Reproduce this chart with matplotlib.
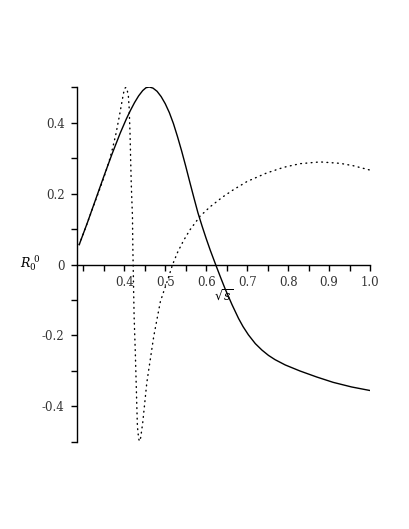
import matplotlib
matplotlib.use("Agg")
import matplotlib.pyplot as plt
from matplotlib.ticker import FixedLocator, MultipleLocator

plt.rcParams["font.family"] = "DejaVu Serif"
plt.rcParams["mathtext.fontset"] = "dejavuserif"


# solid curve
sqrt_s_solid = [0.290, 0.310, 0.330, 0.350, 0.370, 0.390, 0.405, 0.415, 0.425,
                0.435, 0.445, 0.453, 0.461, 0.470, 0.480, 0.490, 0.500, 0.510,
                0.520, 0.530, 0.540, 0.550, 0.560, 0.570, 0.580, 0.590, 0.600,
                0.610, 0.623, 0.635, 0.646, 0.663, 0.679, 0.690, 0.703, 0.720,
                0.736, 0.752, 0.768, 0.793, 0.829, 0.870, 0.910, 0.955, 1.000]
r00_solid = [0.056, 0.118, 0.183, 0.248, 0.311, 0.370, 0.410, 0.434, 0.456,
             0.475, 0.490, 0.498, 0.500, 0.497, 0.488, 0.473, 0.453, 0.428,
             0.397, 0.360, 0.320, 0.277, 0.232, 0.188, 0.145, 0.108, 0.073,
             0.040, 0.000, -0.036, -0.068, -0.113, -0.152, -0.175, -0.198,
             -0.223, -0.241, -0.256, -0.268, -0.283, -0.300, -0.317, -0.332,
             -0.345, -0.355]

# dotted curve
sqrt_s_dotted = [0.290, 0.310, 0.330, 0.345, 0.355, 0.364, 0.372, 0.380, 0.387,
                 0.393, 0.398, 0.401, 0.404, 0.407, 0.410, 0.412, 0.414, 0.415,
                 0.417, 0.420, 0.421, 0.424, 0.427, 0.429, 0.432, 0.435, 0.437,
                 0.440, 0.445, 0.455, 0.472, 0.488, 0.496, 0.505, 0.518, 0.530,
                 0.545, 0.560, 0.585, 0.610, 0.640, 0.667, 0.700, 0.748, 0.790,
                 0.829, 0.878, 0.927, 0.960, 1.000]
r00_dotted = [0.056, 0.118, 0.181, 0.228, 0.262, 0.295, 0.330, 0.370, 0.412,
              0.450, 0.482, 0.496, 0.499, 0.492, 0.474, 0.440, 0.370, 0.322,
              0.228, 0.134, 0.040, -0.146, -0.250, -0.333, -0.455, -0.490,
              -0.498, -0.488, -0.446, -0.333, -0.202, -0.105, -0.077, -0.047,
              0.000, 0.034, 0.068, 0.097, 0.136, 0.163, 0.190, 0.211, 0.234,
              0.258, 0.274, 0.284, 0.289, 0.285, 0.278, 0.266]

x_ticks = [0.4, 0.5, 0.6, 0.7, 0.8, 0.9, 1.0]
x_ticklabels = ["0.4", "0.5", "0.6", "0.7", "0.8", "0.9", "1.0"]
y_ticks = [-0.4, -0.2, 0.0, 0.2, 0.4]
y_ticklabels = ["-0.4", "-0.2", "0", "0.2", "0.4"]


fig = plt.figure(figsize=(4.09, 5.29), dpi=100)
ax = fig.add_axes([0.1883, 0.1645, 0.7164, 0.671])

ax.plot(sqrt_s_solid, r00_solid, color="black", lw=1.0)
ax.plot(sqrt_s_dotted, r00_dotted, color="black", lw=1.0,
        linestyle=(0, (0.6, 3.2)), dash_capstyle="round")

ax.set_xlim(0.2846, 1.0)
ax.set_ylim(-0.5, 0.5)

ax.spines["top"].set_visible(False)
ax.spines["right"].set_visible(False)
ax.spines["bottom"].set_position(("data", 0))
for s in ["left", "bottom"]:
    ax.spines[s].set_linewidth(1.0)

ax.xaxis.set_major_locator(FixedLocator(x_ticks))
ax.set_xticklabels(x_ticklabels)
ax.xaxis.set_minor_locator(FixedLocator([0.3, 0.35, 0.45, 0.55, 0.65, 0.75, 0.85, 0.95]))
ax.yaxis.set_major_locator(FixedLocator(y_ticks))
ax.set_yticklabels(y_ticklabels)
ax.yaxis.set_minor_locator(MultipleLocator(0.1))

ax.tick_params(axis="x", which="both", direction="out", length=4, width=1.0,
               labelsize=8.5, pad=4)
ax.tick_params(axis="y", which="both", direction="out", length=4, width=1.0,
               labelsize=8.5, pad=5)
for lab in ax.get_xticklabels() + ax.get_yticklabels():
    lab.set_color("#333333")

fig.text(0.073, 0.502, r"$R_0^{\ 0}$", fontsize=9, ha="center", va="center")
fig.text(0.548, 0.440, r"$\sqrt{s}$", fontsize=9, ha="center", va="center")

fig.savefig("out.png", dpi=100)
